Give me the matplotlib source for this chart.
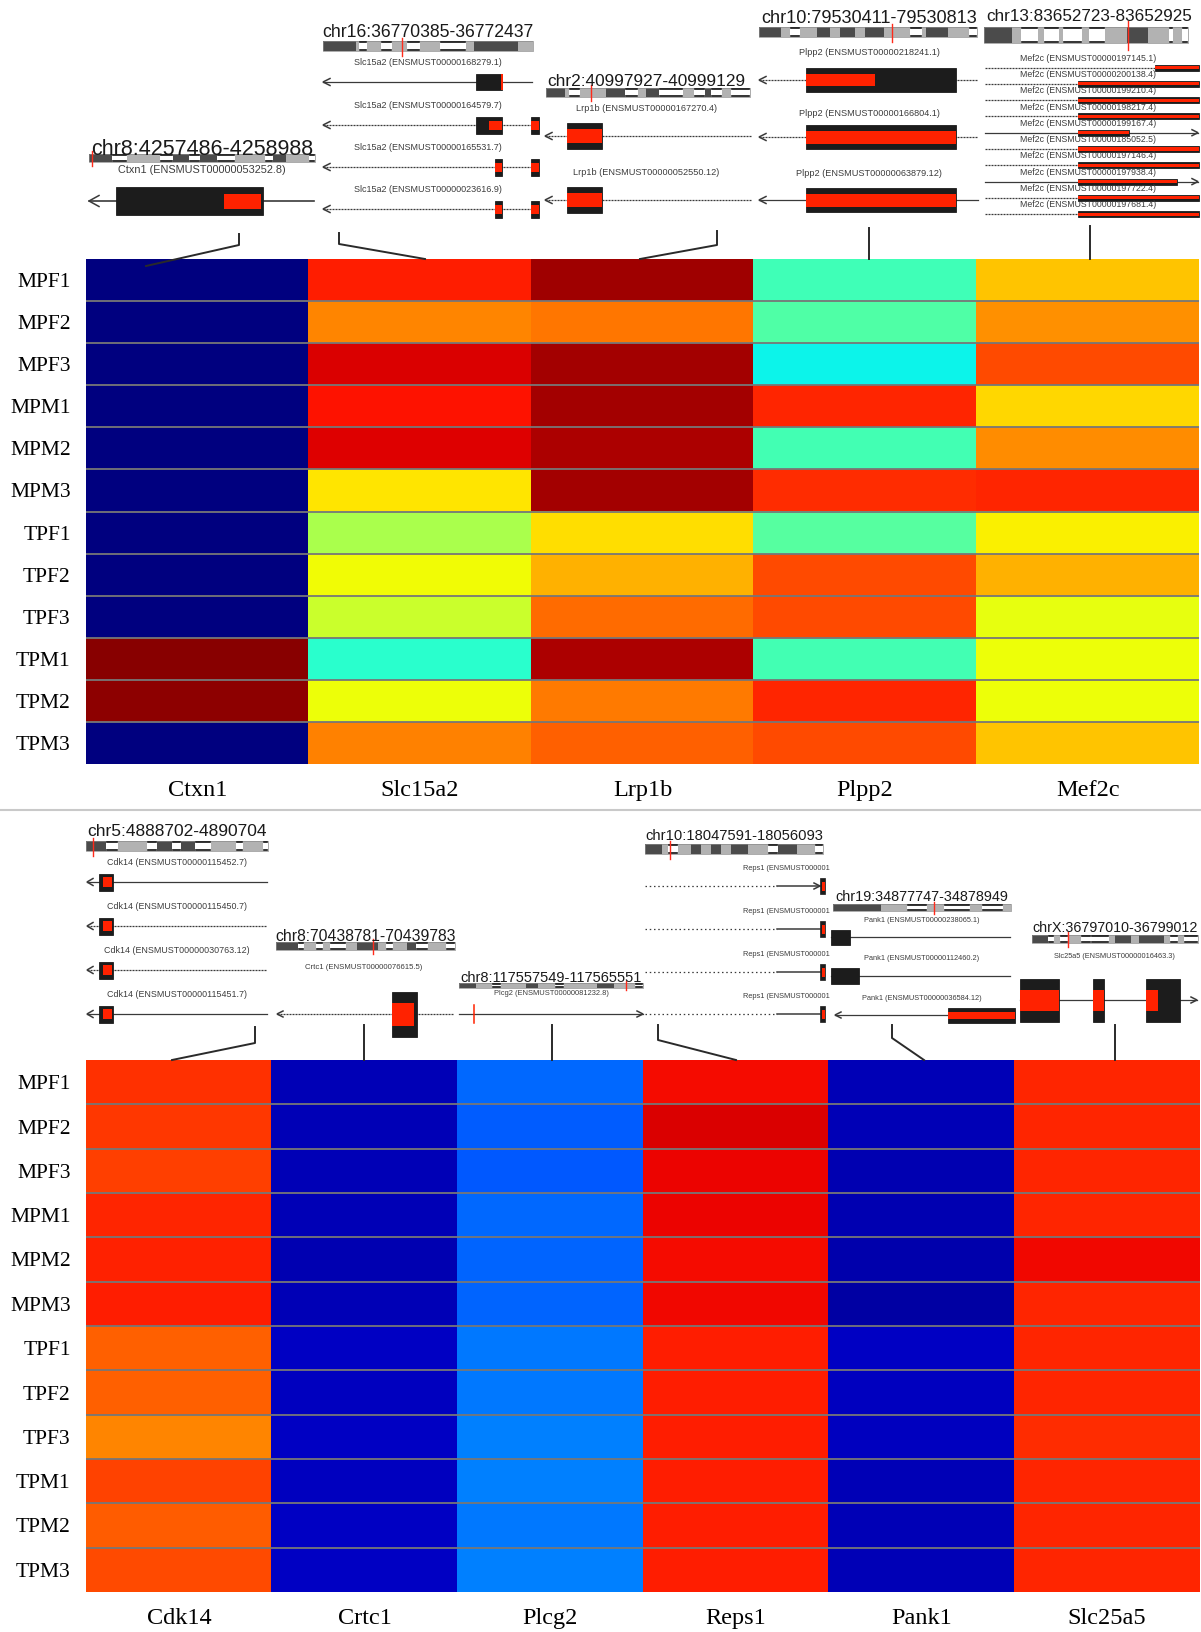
import numpy as np
import matplotlib
matplotlib.use('Agg')
import matplotlib.pyplot as plt
from matplotlib.patches import Rectangle

# heatmap values (jet scale, 0..1)
samples = ['MPF1', 'MPF2', 'MPF3', 'MPM1', 'MPM2', 'MPM3',
           'TPF1', 'TPF2', 'TPF3', 'TPM1', 'TPM2', 'TPM3']

top_genes = ['Ctxn1', 'Slc15a2', 'Lrp1b', 'Plpp2', 'Mef2c']
ctxn1 = [0.0, 0.0, 0.0, 0.0, 0.0, 0.0, 0.0, 0.0, 0.0, 0.99, 0.985, 0.0]
slc15a2 = [0.876, 0.766, 0.919, 0.89, 0.915, 0.667, 0.555, 0.643, 0.595, 0.40, 0.637, 0.77]
lrp1b = [0.97, 0.783, 0.967, 0.967, 0.958, 0.967, 0.675, 0.72, 0.795, 0.958, 0.779, 0.806]
plpp2 = [0.428, 0.446, 0.365, 0.87, 0.43, 0.861, 0.457, 0.829, 0.832, 0.43, 0.868, 0.829]
mef2c = [0.702, 0.757, 0.832, 0.681, 0.76, 0.868, 0.655, 0.72, 0.63, 0.64, 0.637, 0.70]

bot_genes = ['Cdk14', 'Crtc1', 'Plcg2', 'Reps1', 'Pank1', 'Slc25a5']
cdk14 = [0.856, 0.85, 0.842, 0.87, 0.874, 0.877, 0.808, 0.805, 0.766, 0.838, 0.81, 0.83]
crtc1 = [0.05, 0.05, 0.05, 0.05, 0.045, 0.05, 0.06, 0.055, 0.06, 0.055, 0.06, 0.06]
plcg2 = [0.23, 0.218, 0.213, 0.23, 0.223, 0.223, 0.246, 0.246, 0.25, 0.25, 0.246, 0.25]
reps1 = [0.895, 0.92, 0.905, 0.905, 0.895, 0.90, 0.875, 0.878, 0.878, 0.875, 0.878, 0.878]
pank1 = [0.05, 0.05, 0.045, 0.045, 0.04, 0.035, 0.06, 0.055, 0.055, 0.05, 0.05, 0.05]
slc25a5 = [0.868, 0.868, 0.868, 0.868, 0.90, 0.868, 0.868, 0.868, 0.86, 0.868, 0.868, 0.868]

W, H = 1201, 1632
RED = '#ff2200'
BLK = '#1c1c1c'
LINE = '#3a3a3a'
TXT = '#3c3c3c'
SANS = 'Liberation Sans'
SERIF = 'Liberation Serif'

fig = plt.figure(figsize=(W / 100, H / 100), dpi=100)


def box(x0, y0, x1, y1):
    return [x0 / W, 1 - y1 / H, (x1 - x0) / W, (y1 - y0) / H]


def heatmap(rect, columns, genes):
    ax = fig.add_axes(box(*rect))
    m = np.column_stack(columns)
    ax.imshow(m, cmap='jet', vmin=0, vmax=1, aspect='auto', interpolation='nearest')
    for i in range(1, len(samples)):
        ax.axhline(i - 0.5, color='#777777', lw=1.3)
    ax.set_yticks(range(len(samples)))
    ax.set_yticklabels(samples, fontfamily=SERIF, fontsize=15.5)
    ax.set_xticks(range(len(genes)))
    ax.set_xticklabels(genes, fontfamily=SERIF, fontsize=17.5)
    ax.tick_params(length=0)
    ax.tick_params(axis='y', pad=11)
    ax.tick_params(axis='x', pad=11.5)
    for s in ax.spines.values():
        s.set_visible(False)
    return ax


heatmap((86, 259, 1199, 764), [ctxn1, slc15a2, lrp1b, plpp2, mef2c], top_genes)
heatmap((86, 1060, 1200, 1592), [cdk14, crtc1, plcg2, reps1, pank1, slc25a5], bot_genes)

# overlay in pixel coordinates for the genome tracks
ov = fig.add_axes([0, 0, 1, 1], zorder=5)
ov.set_xlim(0, W)
ov.set_ylim(H, 0)
ov.axis('off')
ov.patch.set_alpha(0)


def text(x, yc, s, pt, color=TXT):
    # y is the visual centre of the capitals
    ov.text(x, yc + 0.36 * pt / 0.72, s, fontsize=pt, family=SANS, color=color,
            ha='center', va='baseline', zorder=6)


def ideogram(x0, x1, y0, y1, bands, mark):
    tot = sum(w for _, w in bands)
    x = x0
    for code, w in bands:
        dx = (x1 - x0) * w / tot
        if code == 'd':
            ov.add_patch(Rectangle((x, y0), dx, y1 - y0, fc='#4b4b4b', ec='none'))
        elif code == 'g':
            ov.add_patch(Rectangle((x, y0), dx, y1 - y0, fc='#b2b2b2', ec='none'))
        else:
            ov.add_patch(Rectangle((x, y0), dx, y1 - y0, fc='white', ec='none'))
            ov.plot([x + 1, x + dx - 1], [y0 + 0.8, y0 + 0.8], color='#111111', lw=1.2)
            ov.plot([x + 1, x + dx - 1], [y1 - 0.8, y1 - 0.8], color='#111111', lw=1.2)
        x += dx
    ov.add_patch(Rectangle((x0, y0), x1 - x0, y1 - y0, fc='none', ec='#8a8a8a', lw=0.5))
    h = y1 - y0
    ov.plot([mark, mark], [y0 - 0.35 * h, y1 + 0.45 * h], color='#ff2a1a', lw=1.0, zorder=4)


def arrowhead(x, y, d, size=8, half=4.5, lw=1.1):
    ov.plot([x - d * size, x, x - d * size], [y - half, y, y + half], color=LINE, lw=lw,
            solid_joinstyle='miter', zorder=3)


def transcript(x0, x1, y, arrow=None, dashed=False, exons=(), size=7, half=3.5, lw=0.9):
    ls = (0, (1.6, 0.8)) if dashed else '-'
    ov.plot([x0, x1], [y, y], color=LINE, lw=lw, ls=ls, zorder=2)
    if arrow == 'left':
        arrowhead(x0, y, -1, size, half)
    elif arrow == 'right':
        arrowhead(x1, y, 1, size, half)
    for ex in exons:
        a, b, h = ex[:3]
        ov.add_patch(Rectangle((a, y - h / 2), b - a, h, fc=BLK, ec=BLK, lw=0.6, zorder=3))
        if len(ex) > 3:
            ra, rb, rh = ex[3:]
            ov.add_patch(Rectangle((ra, y - rh / 2), rb - ra, rh, fc=RED, ec='none', zorder=4))


def connector(pts):
    xs, ys = zip(*pts)
    ov.plot(xs, ys, color='#2a2a2a', lw=1.4, zorder=7)


# ---------------- top panel ----------------
# Ctxn1
text(202, 147, 'chr8:4257486-4258988', 15.5, '#1a1a1a')
ideogram(89, 315, 154, 162,
         [('d', 55), ('w', 35), ('g', 80), ('w', 30), ('d', 40), ('w', 25), ('d', 40),
          ('w', 45), ('g', 70), ('w', 20), ('d', 30), ('g', 55), ('w', 15)], 92)
text(202, 169, 'Ctxn1 (ENSMUST00000053252.8)', 7.8)
transcript(89, 314, 201, 'left', exons=[(116, 263, 28, 224, 261, 15)], size=10, half=5.5, lw=1.2)
connector([(239, 234), (239, 245), (146, 266)])

# Slc15a2
text(428, 31, 'chr16:36770385-36772437', 12.7, '#1a1a1a')
ideogram(323, 533, 41, 51,
         [('d', 97), ('g', 10), ('w', 22), ('g', 40), ('w', 35), ('g', 43), ('w', 37),
          ('g', 60), ('w', 75), ('g', 25), ('d', 130), ('g', 43)], 402)
slc_ids = ['168279.1', '164579.7', '165531.7', '023616.9']
slc_y = [82, 125, 167, 209]
for tid, y in zip(slc_ids, slc_y):
    text(428, y - 20, 'Slc15a2 (ENSMUST00000%s)' % tid, 6.5)
transcript(323, 532, 82, 'left', exons=[(476, 502, 16, 501, 502.5, 16)])
transcript(323, 532, 125, 'left', dashed=True,
           exons=[(476, 502, 17, 489, 502, 9), (531, 539, 17, 531, 539, 9)])
transcript(323, 532, 167, 'left', dashed=True,
           exons=[(495, 502, 17, 495, 502, 9), (531, 539, 17, 531, 539, 9)])
transcript(323, 532, 209, 'left', dashed=True,
           exons=[(495, 502, 17, 495, 502, 9), (531, 539, 17, 531, 539, 9)])
connector([(339, 233), (339, 244), (425, 259)])

# Lrp1b
text(646, 80, 'chr2:40997927-40999129', 12.4, '#1a1a1a')
ideogram(546, 750, 88, 97,
         [('d', 43), ('g', 10), ('w', 25), ('g', 60), ('d', 45), ('w', 30), ('g', 20),
          ('d', 30), ('w', 55), ('g', 25), ('w', 25), ('d', 15), ('w', 25), ('g', 20),
          ('w', 45)], 591)
text(646, 108, 'Lrp1b (ENSMUST00000167270.4)', 6.6)
transcript(545, 752, 136, 'left', dashed=True, exons=[(567, 602, 26, 567, 602, 14)])
text(646, 172, 'Lrp1b (ENSMUST00000052550.12)', 6.6)
transcript(545, 752, 200, 'left', dashed=True, exons=[(567, 602, 26, 567, 602, 14)])
connector([(717, 231), (717, 245), (640, 259)])

# Plpp2
text(869, 16, 'chr10:79530411-79530813', 13.1, '#1a1a1a')
ideogram(759, 977, 27, 37,
         [('d', 53), ('g', 20), ('w', 25), ('g', 40), ('d', 30), ('g', 25), ('d', 35),
          ('g', 25), ('d', 45), ('g', 60), ('w', 30), ('g', 10), ('d', 50), ('g', 50),
          ('w', 20)], 892)
text(869, 52, 'Plpp2 (ENSMUST00000218241.1)', 6.6)
transcript(759, 978, 80, 'left', dashed=True, exons=[(806, 956, 24, 806, 875, 12)])
text(869, 113, 'Plpp2 (ENSMUST00000166804.1)', 6.6)
transcript(759, 978, 137, 'left', dashed=True, exons=[(806, 956, 24, 806, 956, 13)])
text(869, 173, 'Plpp2 (ENSMUST00000063879.12)', 6.6)
transcript(759, 978, 200, 'left', exons=[(806, 956, 24, 806, 956, 13)])
connector([(869, 228), (869, 259)])

# Mef2c
text(1089, 15, 'chr13:83652723-83652925', 12.3, '#1a1a1a')
ideogram(984, 1188, 27, 43,
         [('d', 67), ('g', 20), ('w', 40), ('g', 15), ('w', 35), ('g', 10), ('w', 45),
          ('g', 15), ('w', 40), ('g', 50), ('d', 50), ('g', 50), ('w', 10), ('g', 20),
          ('w', 15)], 1128)
mef_ids = ['197145.1', '200138.4', '199210.4', '198217.4', '199167.4',
           '185052.5', '197146.4', '197938.4', '197722.4', '197681.4']
mef_red = [(1155, 1199), (1078, 1199), (1078, 1199), (1078, 1199), (1078, 1129),
           (1078, 1199), (1078, 1199), (1078, 1177), (1078, 1199), (1078, 1199)]
for i, (tid, (ra, rb)) in enumerate(zip(mef_ids, mef_red)):
    y = 67.5 + i * 16.3
    text(1088, y - 10, 'Mef2c (ENSMUST00000%s)' % tid, 6.3)
    fwd = i in (4, 7)
    transcript(985, 1198, y, 'right' if fwd else None, dashed=not fwd,
               exons=[(ra, rb, 6, ra, rb, 3.2)], size=6, half=3)
connector([(1090, 226), (1090, 259)])

# separator between the two panels
ov.plot([0, W], [810, 810], color='#c9c9c9', lw=1.5)

# ---------------- bottom panel ----------------
# Cdk14
text(177, 830, 'chr5:4888702-4890704', 12.5, '#1a1a1a')
ideogram(86, 268, 841, 851,
         [('d', 55), ('w', 35), ('g', 80), ('w', 30), ('d', 40), ('w', 25), ('d', 40),
          ('w', 45), ('g', 70), ('w', 20), ('g', 55), ('w', 15)], 93)
cdk_ids = ['115452.7', '115450.7', '030763.12', '115451.7']
cdk_y = [882, 926, 970, 1014]
for i, (tid, y) in enumerate(zip(cdk_ids, cdk_y)):
    text(177, y - 20, 'Cdk14 (ENSMUST00000%s)' % tid, 6.4)
    transcript(87, 267, y, 'left', dashed=i in (1, 2),
               exons=[(99, 112.5, 17, 102.5, 111.5, 10)], size=6, half=3.5)
connector([(255, 1027), (255, 1043), (172, 1060)])

# Crtc1
text(366, 935, 'chr8:70438781-70439783', 11.3, '#1a1a1a')
ideogram(276, 455, 942, 950,
         [('d', 63), ('w', 15), ('g', 35), ('w', 20), ('g', 20), ('w', 45), ('g', 30),
          ('d', 60), ('g', 20), ('w', 20), ('g', 40), ('d', 25), ('w', 35), ('g', 50),
          ('w', 25)], 373)
text(364, 966, 'Crtc1 (ENSMUST00000076615.5)', 5.6)
transcript(277, 454, 1014, 'left', dashed=True, exons=[(392, 417, 45, 392, 413.5, 23)],
           size=6, half=3)
connector([(364, 1025), (364, 1060)])

# Plcg2
text(551, 977, 'chr8:117557549-117565551', 10.5, '#1a1a1a')
ideogram(459, 643, 983, 988,
         [('d', 20), ('g', 20), ('w', 10), ('g', 30), ('d', 15), ('g', 20), ('w', 10),
          ('g', 40), ('d', 20), ('g', 25), ('w', 10)], 626)
text(551, 992, 'Plcg2 (ENSMUST00000081232.8)', 5.4)
transcript(459, 643, 1014, 'right', size=6, half=3)
ov.plot([473.5, 473.5], [1005, 1023], color=RED, lw=1.1, zorder=4)
connector([(552, 1025), (552, 1060)])

# Reps1
text(734, 835, 'chr10:18047591-18056093', 10.6, '#1a1a1a')
ideogram(645, 823, 844, 854,
         [('d', 42), ('g', 15), ('w', 25), ('g', 30), ('d', 25), ('g', 25), ('d', 25),
          ('g', 25), ('d', 40), ('g', 50), ('w', 25), ('d', 45), ('g', 45), ('w', 20)], 670)
reps_y = [886, 929, 972, 1014]
for i, y in enumerate(reps_y):
    ov.text(830, y - 19 + 0.36 * 5.3 / 0.72, 'Reps1 (ENSMUST000001', fontsize=5.3,
            family=SANS, color=TXT, ha='right', va='baseline')
    ov.plot([645, 777], [y, y], color=LINE, lw=0.9, ls=(0, (1.2, 2.2)))
    ov.plot([777, 820], [y, y], color=LINE, lw=1.1)
    if i == 0:
        arrowhead(820, y, 1, 6, 3)
    ov.add_patch(Rectangle((819.5, y - 8), 5.5, 16, fc=BLK, ec=BLK, lw=0.5, zorder=3))
    ov.add_patch(Rectangle((821.8, y - 4.5), 3.2, 9, fc=RED, ec='none', zorder=4))
connector([(658, 1025), (658, 1040), (736, 1060)])

# Pank1
text(922, 896, 'chr19:34877747-34878949', 10.4, '#1a1a1a')
ideogram(833, 1011, 904, 911,
         [('d', 117), ('g', 65), ('w', 50), ('g', 40), ('w', 65), ('g', 30), ('w', 50),
          ('g', 20)], 934)
text(922, 919, 'Pank1 (ENSMUST00000238065.1)', 5.3)
transcript(831, 1010, 937, exons=[(831, 850, 15)])
text(922, 957, 'Pank1 (ENSMUST00000112460.2)', 5.3)
transcript(831, 1010, 976, exons=[(831, 859, 16)])
text(922, 997, 'Pank1 (ENSMUST00000036584.12)', 5.3)
transcript(835, 948, 1015, 'left', exons=[(948, 1015, 15, 948, 1015, 7)], size=6, half=3)
connector([(892, 1025), (892, 1038), (924, 1060)])

# Slc25a5
text(1115, 927, 'chrX:36797010-36799012', 10.3, '#1a1a1a')
ideogram(1032, 1198, 935, 943,
         [('d', 40), ('w', 15), ('g', 15), ('w', 20), ('g', 35), ('w', 25), ('w', 45),
          ('g', 15), ('d', 40), ('g', 20), ('d', 65), ('g', 15), ('w', 20), ('g', 15),
          ('w', 35)], 1068)
text(1114, 955, 'Slc25a5 (ENSMUST00000016463.3)', 5.3)
transcript(1020, 1197, 1000, 'right',
           exons=[(1020, 1059, 43, 1020, 1059, 21), (1093, 1104, 43, 1093, 1104, 21),
                  (1146, 1180, 43, 1146, 1158, 21)], size=6, half=3)
connector([(1115, 1025), (1115, 1060)])

fig.savefig('out.png', dpi=100)
